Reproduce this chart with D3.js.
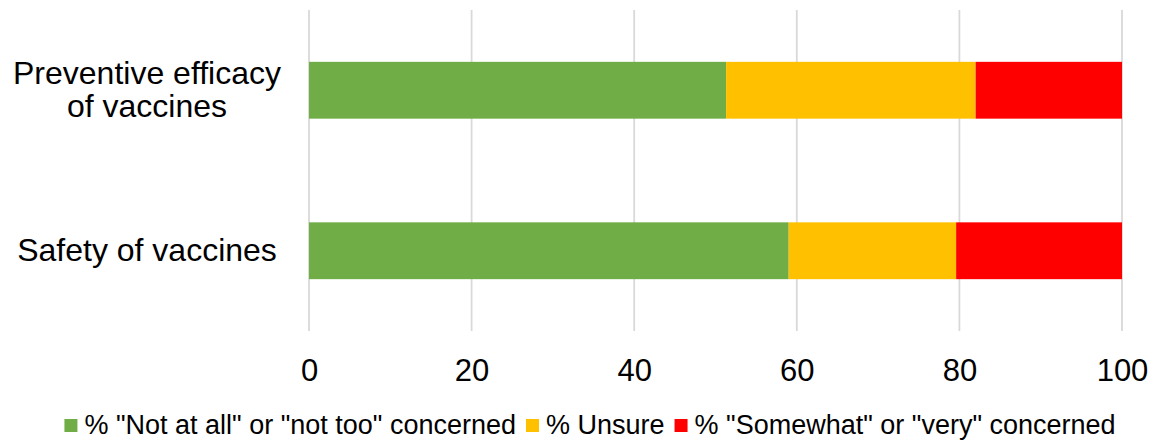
<!DOCTYPE html>
<html><head><meta charset="utf-8">
<script src="https://cdn.jsdelivr.net/npm/d3@7"></script>
<style>
html,body{margin:0;padding:0;background:#fff;}
text{font-family:"Liberation Sans",Arial,sans-serif;fill:#000;}
</style></head>
<body><svg id="c" width="1152" height="441"></svg>
<script>
const categories = ["Preventive efficacy of vaccines", "Safety of vaccines"];
const categoryLines = [["Preventive efficacy", "of vaccines"], ["Safety of vaccines"]];
const seriesNames = ['% "Not at all" or "not too" concerned', '% Unsure', '% "Somewhat" or "very" concerned'];
const seriesColors = ["#70AD47", "#FFC000", "#FF0000"];
const notConcerned = [51.3, 59.0];
const unsure = [30.7, 20.6];
const concerned = [18.0, 20.4];
const xTicks = [0, 20, 40, 60, 80, 100];

const svg = d3.select("#c");
const x = d3.scaleLinear().domain([0, 100]).range([309, 1122]);
const y = d3.scaleBand().domain(categories).range([10, 331]).paddingInner(0.646).paddingOuter(0.323);

// gridlines
svg.append("g").selectAll("line").data(xTicks).join("line")
  .attr("x1", d => x(d)).attr("x2", d => x(d))
  .attr("y1", 10).attr("y2", 331)
  .attr("stroke", "#D9D9D9").attr("stroke-width", 1.8);

const stackData = categories.map((c, i) => ({c, s0: notConcerned[i], s1: unsure[i], s2: concerned[i]}));
const stack = d3.stack().keys(["s0", "s1", "s2"])(stackData);

svg.append("g").selectAll("g").data(stack).join("g")
  .attr("fill", (d, i) => seriesColors[i])
  .selectAll("rect").data(d => d).join("rect")
  .attr("x", d => x(d[0]))
  .attr("width", d => x(d[1]) - x(d[0]))
  .attr("y", d => y(d.data.c))
  .attr("height", y.bandwidth());

// x axis labels
const xAxis = d3.axisBottom(x).tickValues(xTicks).tickSize(0).tickPadding(0);
const gx = svg.append("g").call(xAxis);
gx.select(".domain").remove();
gx.selectAll("text").attr("y", 381).attr("dy", null)
  .style("font-size", "31px").style("font-family", '"Liberation Sans",Arial,sans-serif').attr("fill", "#000");

// category labels
categories.forEach((c, i) => {
  const lines = categoryLines[i];
  const cy = y(c) + y.bandwidth() / 2;
  const lh = 33;
  const first = cy + 10.5 - (lines.length - 1) * lh / 2;
  const t = svg.append("text").attr("text-anchor", "middle").style("font-size", "32px");
  lines.forEach((l, j) => t.append("tspan").attr("x", 147).attr("y", first + j * lh).text(l));
});

// legend
const lg = svg.append("g");
let cx = 0;
seriesNames.forEach((n, i) => {
  const g = lg.append("g");
  g.append("rect").attr("x", 0).attr("y", -15).attr("width", 13).attr("height", 13).attr("fill", seriesColors[i]);
  const t = g.append("text").attr("x", 20).attr("y", 0).style("font-size", "27px").text(n);
  const w = 20 + t.node().getComputedTextLength();
  g.attr("transform", `translate(${cx},434)`);
  cx += w + 10;
});
const total = cx - 10;
lg.attr("transform", `translate(${590 - total / 2},0)`);
</script></body></html>
